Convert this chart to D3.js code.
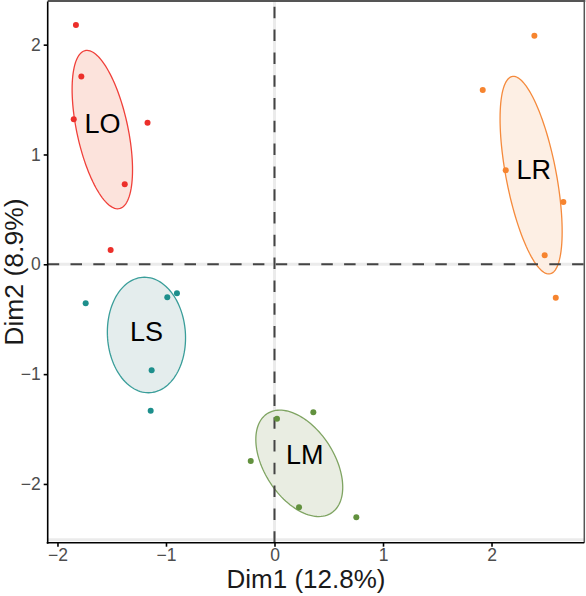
<!DOCTYPE html>
<html>
<head>
<meta charset="utf-8">
<script src="https://cdn.jsdelivr.net/npm/d3@7"></script>
<style>
  html, body { margin: 0; padding: 0; background: #fff; }
  svg { display: block; font-family: "Liberation Sans", Arial, sans-serif; }
</style>
</head>
<body>
<svg id="chart" width="586" height="596"></svg>
<script>
// ---- data ----
const groups = ["LO", "LR", "LS", "LM"];
const loX = [-1.83, -1.78, -1.85, -1.17, -1.38, -1.51];
const loY = [2.18, 1.71, 1.32, 1.29, 0.73, 0.13];
const lrX = [2.395, 1.919, 2.131, 2.662, 2.490, 2.592];
const lrY = [2.082, 1.587, 0.856, 0.567, 0.082, -0.304];
const lsX = [-1.740, -0.988, -0.899, -1.132, -1.141];
const lsY = [-0.355, -0.301, -0.264, -0.965, -1.333];
const lmX = [0.023, 0.358, -0.219, 0.226, 0.754];
const lmY = [-1.406, -1.348, -1.791, -2.213, -2.304];
const labelX = [-1.585, 2.390, -1.180, 0.279];
const labelY = [1.286, 0.861, -0.607, -1.731];
const pointColors = ["#ec2f2a", "#f6842f", "#1d8f8c", "#62913e"];
const lineColors = ["#f0403a", "#f58a3c", "#3a9e9a", "#7fa462"];
const fillColors = ["#fce3dc", "#fdefe4", "#e4eded", "#e9ede2"];
const xTicks = [-2, -1, 0, 1, 2];
const yTicks = [-2, -1, 0, 1, 2];
const xTitle = "Dim1 (12.8%)";
const yTitle = "Dim2 (8.9%)";
const xDomain = [-2.09, 2.855];
const yDomain = [-2.535, 2.393];

const seriesX = [loX, lrX, lsX, lmX];
const seriesY = [loY, lrY, lsY, lmY];

// ---- layout ----
const svg = d3.select("#chart");
const pL = 47.7, pR = 584.3, pT = 1.5, pB = 542.7;
const x = d3.scaleLinear().domain(xDomain).range([pL, pR]);
const y = d3.scaleLinear().domain(yDomain).range([pB, pT]);

// faint background lines
const faint = svg.append("g").attr("stroke", "#ebebeb").attr("stroke-width", 3);
faint.append("line").attr("x1", pL).attr("x2", pR).attr("y1", y(0)).attr("y2", y(0));
faint.append("line").attr("x1", x(0)).attr("x2", x(0)).attr("y1", pT).attr("y2", pB);
faint.append("line").attr("x1", pL).attr("x2", pR).attr("y1", pB - 3).attr("y2", pB - 3);

// confidence ellipses of group means (95%)
const cRad = Math.sqrt(5.991);
function ellipsePoints(xs, ys) {
  const n = xs.length;
  const mx = d3.mean(xs), my = d3.mean(ys);
  let sxx = 0, syy = 0, sxy = 0;
  for (let i = 0; i < n; i++) {
    sxx += (xs[i] - mx) ** 2; syy += (ys[i] - my) ** 2; sxy += (xs[i] - mx) * (ys[i] - my);
  }
  sxx /= (n - 1) * n; syy /= (n - 1) * n; sxy /= (n - 1) * n;
  const l11 = Math.sqrt(sxx), l21 = sxy / l11, l22 = Math.sqrt(syy - l21 * l21);
  const pts = [];
  for (let k = 0; k <= 120; k++) {
    const t = 2 * Math.PI * k / 120;
    const u = cRad * Math.cos(t), v = cRad * Math.sin(t);
    pts.push([mx + l11 * u, my + l21 * u + l22 * v]);
  }
  return pts;
}
const lineGen = d3.line().x(d => x(d[0])).y(d => y(d[1]));
const gEll = svg.append("g");
groups.forEach((g, i) => {
  gEll.append("path")
    .attr("d", lineGen(ellipsePoints(seriesX[i], seriesY[i])) + "Z")
    .attr("fill", fillColors[i])
    .attr("stroke", lineColors[i])
    .attr("stroke-width", 1.3);
});

// dashed reference lines
svg.append("path")
  .attr("d", `M${pL},${y(0)}H${pR}`)
  .attr("stroke", "#444").attr("stroke-width", 2)
  .attr("stroke-dasharray", "11.5,11.3").attr("fill", "none");
svg.append("path")
  .attr("d", `M${x(0)},${pB}V${pT}`)
  .attr("stroke", "#444").attr("stroke-width", 2)
  .attr("stroke-dasharray", "11.5,11.3").attr("fill", "none");

// points
const gPts = svg.append("g");
groups.forEach((g, i) => {
  gPts.selectAll(null).data(d3.range(seriesX[i].length)).enter()
    .append("circle")
    .attr("cx", j => x(seriesX[i][j]))
    .attr("cy", j => y(seriesY[i][j]))
    .attr("r", 3)
    .attr("fill", pointColors[i]);
});

// group labels
svg.append("g").selectAll("text").data(groups).enter()
  .append("text")
  .attr("x", (d, i) => x(labelX[i]))
  .attr("y", (d, i) => y(labelY[i]))
  .attr("dy", "0.36em")
  .attr("text-anchor", "middle")
  .attr("font-size", 27)
  .attr("fill", "#000")
  .text(d => d);

// panel border top/right
svg.append("line").attr("x1", pL).attr("x2", pR + 1).attr("y1", 1).attr("y2", 1)
  .attr("stroke", "#555").attr("stroke-width", 2);
svg.append("line").attr("x1", pR).attr("x2", pR).attr("y1", 0).attr("y2", pB)
  .attr("stroke", "#555").attr("stroke-width", 1.5);

// axes
const fmt = d3.format("d");
const xAxis = svg.append("g").attr("transform", `translate(0,${pB})`)
  .call(d3.axisBottom(x).tickValues(xTicks).tickFormat(fmt).tickSize(4).tickPadding(2).tickSizeOuter(0));
const yAxis = svg.append("g").attr("transform", `translate(${pL},0)`)
  .call(d3.axisLeft(y).tickValues(yTicks).tickFormat(fmt).tickSize(4).tickPadding(3).tickSizeOuter(0));
[xAxis, yAxis].forEach(a => {
  a.select(".domain").attr("stroke", "#000").attr("stroke-width", 1.6);
  a.selectAll(".tick line").attr("stroke", "#000").attr("stroke-width", 1.6);
  a.selectAll(".tick text").attr("fill", "#4d4d4d").attr("font-size", 17.5)
    .attr("font-family", "Liberation Sans, Arial, sans-serif");
});
xAxis.select(".domain").attr("d", `M${pL - 1},0H${pR}`);
yAxis.select(".domain").attr("d", `M0,${pT}V${pB + 1}`);

// axis titles
svg.append("text")
  .attr("x", 306).attr("y", 588)
  .attr("text-anchor", "middle").attr("font-size", 26).attr("fill", "#1a1a1a")
  .text(xTitle);
svg.append("text")
  .attr("transform", `translate(23,${(pT + pB) / 2}) rotate(-90)`)
  .attr("text-anchor", "middle").attr("font-size", 26.5).attr("fill", "#1a1a1a")
  .text(yTitle);
</script>
</body>
</html>
